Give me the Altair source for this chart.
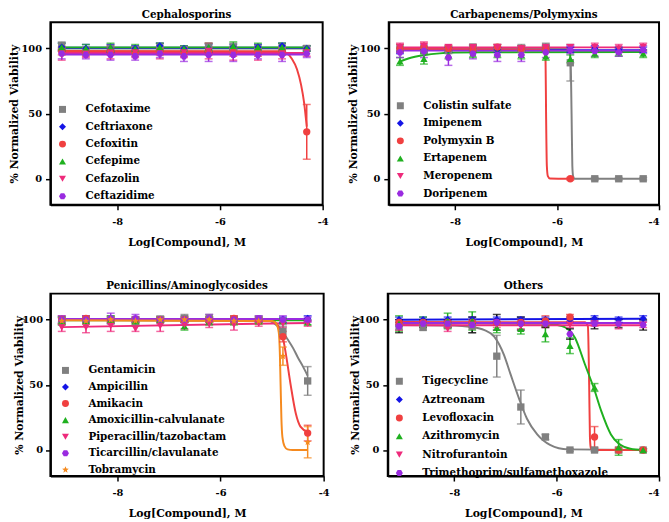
import altair as alt
import pandas as pd

# ---------------- data ----------------
XS = [-9.08, -8.61, -8.13, -7.65, -7.17, -6.70, -6.22, -5.74, -5.26, -4.79, -4.31]

GRAY, BLUE, RED, GREEN = "#808080", "#1414e6", "#f04040", "#1fb01f"
PINK, PURPLE, ORANGE, BLACK = "#ee2a7b", "#9a2be0", "#f58a1f", "#000000"

HEXAGON = "M-0.5,-0.87L0.5,-0.87L1,0L0.5,0.87L-0.5,0.87L-1,0Z"
STAR = ("M0,-1L0.26,-0.36L0.95,-0.31L0.42,0.14L0.59,0.81L0,0.44"
        "L-0.59,0.81L-0.42,0.14L-0.95,-0.31L-0.26,-0.36Z")

# Panel 1 - Cephalosporins
P1_TITLE = "Cephalosporins"
P1_NAMES = ["Cefotaxime", "Ceftriaxone", "Cefoxitin", "Cefepime", "Cefazolin", "Ceftazidime"]
P1_COLORS = [GRAY, BLUE, RED, GREEN, PINK, PURPLE]
P1_ECOLORS = [GRAY, BLUE, RED, GREEN, PINK, PURPLE]
P1_SHAPES = ["square", "diamond", "circle", "triangle-up", "triangle-down", HEXAGON]
P1_Y = [
    [102, 98, 100, 99, 101, 99, 101, 101, 100, 101, 100],
    [101, 100, 100, 100, 102, 100, 100, 101, 101, 102, 100],
    [98, 97, 98, 97, 98, 97, 98, 97, 97, 98, 36],
    [101, 100, 101, 100, 101, 100, 101, 102, 101, 101, 100],
    [95, 96, 97, 97, 96, 97, 98, 96, 95, 96, 97],
    [96, 95, 95, 94, 96, 94, 95, 95, 95, 95, 96],
]
P1_E = [
    [3, 3, 3, 3, 3, 2, 3, 3, 3, 3, 2],
    [3, 3, 3, 2, 2, 2, 3, 2, 2, 2, 2],
    [3, 3, 3, 3, 3, 3, 3, 3, 3, 3, 21],
    [3, 3, 3, 3, 3, 2, 3, 3, 3, 3, 2],
    [4, 3, 5, 4, 4, 4, 6, 5, 4, 4, 3],
    [4, 3, 4, 3, 3, 4, 5, 5, 3, 5, 3],
]
P1_CX = [
    [-9.08, -4.31],
    [-9.08, -4.31],
    [-9.08, -4.80, -4.70, -4.60, -4.50, -4.42, -4.36, -4.31],
    [-9.08, -4.31],
    [-9.08, -4.31],
    [-9.08, -4.31],
]
P1_CY = [
    [100, 100],
    [100.5, 100.5],
    [98, 97.8, 96.5, 92, 84, 72, 58, 40],
    [100.8, 100.8],
    [96.5, 96.5],
    [95.3, 95.3],
]

# Panel 2 - Carbapenems/Polymyxins
P2_TITLE = "Carbapenems/Polymyxins"
P2_NAMES = ["Colistin sulfate", "Imipenem", "Polymyxin B", "Ertapenem", "Meropenem", "Doripenem"]
P2_COLORS = [GRAY, BLUE, RED, GREEN, PINK, PURPLE]
P2_ECOLORS = [GRAY, BLUE, RED, GREEN, PINK, PURPLE]
P2_SHAPES = ["square", "diamond", "circle", "triangle-up", "triangle-down", HEXAGON]
P2_Y = [
    [100, 99, 99, 101, 100, 100, 101, 89, 0, 0, 0],
    [98, 99, 99, 100, 99, 100, 100, 99, 100, 99, 99],
    [100, 101, 100, 100, 101, 100, 100, 0, None, None, None],
    [90, 92, 95, 96, 96, 95, 94, 92, 96, 97, 96],
    [101, 102, 101, 101, 101, 100, 101, 101, 101, 100, 101],
    [97, 98, 93, 96, 95, 95, 97, 99, 98, 97, 99],
]
P2_E = [
    [3, 3, 3, 2, 3, 3, 3, 14, 1, 1, 1],
    [2, 2, 2, 2, 2, 2, 2, 2, 2, 2, 2],
    [3, 3, 2, 2, 2, 2, 2, 1, 0, 0, 0],
    [3, 4, 3, 3, 3, 3, 3, 3, 3, 3, 3],
    [3, 3, 2, 2, 2, 2, 2, 2, 3, 3, 3],
    [4, 5, 6, 4, 5, 5, 4, 3, 4, 3, 3],
]
P2_CX = [
    [-9.08, -5.77, -5.735, -5.715, -5.70, -5.685, -5.66, -4.31],
    [-9.08, -4.31],
    [-9.08, -6.25, -6.225, -6.215, -6.20, -6.18, -6.14, -5.74],
    [-9.08, -8.9, -8.61, -8.3, -8.0, -7.5, -4.31],
    [-9.08, -4.31],
    [-9.08, -4.31],
]
P2_CY = [
    [100, 99.5, 92, 50, 10, 2, 0, 0],
    [98.7, 98.7],
    [99.5, 99, 90, 50, 10, 2, 0.2, 0],
    [90, 92.5, 94.8, 96.2, 96.8, 97.1, 97.2],
    [100.8, 100.8],
    [98.3, 98.3],
]

# Panel 3 - Penicillins/Aminoglycosides
P3_TITLE = "Penicillins/Aminoglycosides"
P3_NAMES = ["Gentamicin", "Ampicillin", "Amikacin", "Amoxicillin-calvulanate",
            "Piperacillin/tazobactam", "Ticarcillin/clavulanate", "Tobramycin"]
P3_COLORS = [GRAY, BLUE, RED, GREEN, PINK, PURPLE, ORANGE]
P3_ECOLORS = [GRAY, BLUE, RED, GREEN, PINK, PURPLE, ORANGE]
P3_SHAPES = ["square", "diamond", "circle", "triangle-up", "triangle-down", HEXAGON, STAR]
P3_Y = [
    [99, 100, 100, 99, 100, 101, 101, 100, 100, 91, 53],
    [100, 100, 100, 100, 100, 100, 100, 100, 100, 100, 101],
    [100, 101, 100, 100, 100, 100, 100, 101, 100, 87, 13],
    [99, 99, 100, 99, 100, 95, 99, 99, 99, 99, 98],
    [94, 94, 95, 93, 95, 96, 97, 96, 97, 97, 97],
    [100, 100, 101, 101, 100, 100, 101, 100, 101, 100, 100],
    [99, 99, 100, 99, 100, 100, 100, 99, 99, 72, 6],
]
P3_E = [
    [3, 3, 3, 3, 3, 3, 3, 3, 3, 4, 11],
    [2, 2, 2, 2, 2, 2, 2, 2, 2, 2, 2],
    [3, 2, 2, 2, 2, 2, 2, 2, 2, 4, 6],
    [3, 2, 3, 2, 2, 3, 3, 3, 2, 2, 2],
    [3, 4, 4, 2, 4, 3, 3, 4, 2, 3, 2],
    [3, 3, 4, 3, 2, 3, 3, 2, 2, 3, 2],
    [2, 2, 2, 2, 2, 2, 2, 2, 2, 7, 12],
]
P3_CX = [
    [-9.08, -5.1, -4.95, -4.80, -4.70, -4.59, -4.50, -4.40, -4.31],
    [-9.08, -4.31],
    [-9.08, -5.0, -4.9, -4.80, -4.73, -4.64, -4.54, -4.45, -4.31],
    [-9.08, -4.31],
    [-9.08, -4.31],
    [-9.08, -4.31],
    [-9.08, -5.0, -4.92, -4.87, -4.85, -4.835, -4.82, -4.80, -4.76, -4.70, -4.60, -4.31],
]
P3_CY = [
    [100, 99.5, 97, 91, 85, 78, 71, 64, 57],
    [100.3, 100.3],
    [100, 99, 96.5, 88, 73, 50, 28, 18, 14],
    [99.5, 99.5],
    [94.3, 97.5],
    [100.5, 100.5],
    [99.5, 99, 97, 90, 75, 50, 25, 10, 3, 0.5, 0, 0],
]

# Panel 4 - Others
P4_TITLE = "Others"
P4_NAMES = ["Tigecycline", "Aztreonam", "Levofloxacin", "Azithromycin",
            "Nitrofurantoin", "Trimethoprim/sulfamethoxazole"]
P4_COLORS = [GRAY, BLUE, RED, GREEN, PINK, PURPLE]
P4_ECOLORS = [GRAY, BLUE, RED, GREEN, PINK, BLACK]
P4_SHAPES = ["square", "diamond", "circle", "triangle-up", "triangle-down", HEXAGON]
P4_Y = [
    [95, 94, 96, 95, 72, 33, 10, 0, 0, 0, 0],
    [100, 100, 100, 100, 100, 100, 100, 100, 101, 100, 101],
    [98, 98, 98, 98, 98, 98, 99, 102, 10, 0, 0],
    [97, 98, 99, 99, 94, 93, 89, 80, 48, 2, 0],
    [94, 97, 93, 96, 96, 95, 96, 96, 97, 95, 96],
    [95, 97, 97, 96, 98, 97, 97, 89, 97, 97, 96],
]
P4_E = [
    [3, 2, 2, 5, 16, 13, 2, 1, 1, 1, 1],
    [2, 2, 2, 2, 2, 2, 2, 2, 2, 2, 2],
    [2, 2, 2, 2, 2, 2, 4, 2, 8, 2, 1],
    [6, 4, 6, 7, 4, 4, 6, 6, 3, 6, 1],
    [2, 2, 2, 2, 2, 2, 2, 2, 2, 2, 2],
    [5, 3, 3, 6, 6, 5, 3, 4, 4, 3, 4],
]
P4_CX = [
    [-9.08, -8.0, -7.70, -7.41, -7.22, -7.03, -6.90, -6.74, -6.58, -6.38, -6.13, -5.78, -4.31],
    [-9.08, -4.31],
    [-9.08, -5.45, -5.39, -5.365, -5.35, -5.335, -5.31, -4.31],
    [-9.08, -6.3, -6.0, -5.83, -5.64, -5.45, -5.27, -5.13, -4.94, -4.79, -4.56, -4.31],
    [-9.08, -4.31],
    [-9.08, -4.31],
]
P4_CY = [
    [96, 95.5, 94.5, 92, 87, 73, 58, 40, 24, 12, 4, 0.5, 0],
    [100, 100.8],
    [98.2, 98, 95, 50, 10, 2, 0, 0],
    [97.5, 97, 96, 94, 86, 66, 47, 30, 12, 5, 1, 0],
    [95.7, 95.7],
    [97.5, 97.5],
]

X_TICKS = [-8, -6, -4]
Y_TICKS = [0, 50, 100]

FONT = "DejaVu Serif"
H = 185


def panel(title, names, colors, ecolors, shapes, ys, es, cxs, cys,
          lx, ly, rowpad, width, ytpad=1, ylpad=4, flush=False):
    pts, crv = [], []
    for i, n in enumerate(names):
        for j, x in enumerate(XS):
            if ys[i][j] is None:
                continue
            pts.append({"series": n, "order": i, "x": x, "y": ys[i][j],
                        "lo": ys[i][j] - es[i][j], "hi": ys[i][j] + es[i][j],
                        "ecolor": ecolors[i]})
        for x, y in zip(cxs[i], cys[i]):
            crv.append({"series": n, "order": i, "x": x, "y": y, "color": colors[i]})
    dp, dc = pd.DataFrame(pts), pd.DataFrame(crv)

    xsc = alt.Scale(domain=[-9.3, -4], nice=False, zero=False, padding=0)
    ysc = alt.Scale(domain=[-20, 120], nice=False, zero=False, padding=0)
    xax = alt.Axis(values=X_TICKS, title="Log[Compound], M", labelExpr="'' + datum.value",
                   labelFlush=flush, labelPadding=6.5, titlePadding=10.5)
    yax = alt.Axis(values=Y_TICKS, title="% Normalized Viability",
                   labelPadding=ylpad, titlePadding=ytpad)

    lines = alt.Chart(dc).mark_line(strokeWidth=2, interpolate="monotone", clip=True).encode(
        x=alt.X("x:Q", scale=xsc, axis=xax), y=alt.Y("y:Q", scale=ysc, axis=yax),
        detail="series:N",
        color=alt.Color("color:N", scale=None),
    )
    rules = alt.Chart(dp).mark_rule(strokeWidth=1.5).encode(
        x=alt.X("x:Q", scale=xsc), y=alt.Y("lo:Q", scale=ysc), y2="hi:Q",
        color=alt.Color("ecolor:N", scale=None),
    )
    caps = alt.Chart(dp).transform_fold(["lo", "hi"], as_=["k", "cap"]).mark_tick(
        orient="horizontal", size=8, thickness=1.5).encode(
        x=alt.X("x:Q", scale=xsc), y=alt.Y("cap:Q", scale=ysc),
        color=alt.Color("ecolor:N", scale=None),
    )
    legend = alt.Legend(orient="none", legendX=lx, legendY=ly, title=None,
                        rowPadding=rowpad)
    points = alt.Chart(dp).mark_point(filled=True, size=55, opacity=1, fillOpacity=1,
                                      strokeWidth=0).encode(
        x=alt.X("x:Q", scale=xsc), y=alt.Y("y:Q", scale=ysc),
        color=alt.Color("series:N", scale=alt.Scale(domain=names, range=colors), legend=legend),
        shape=alt.Shape("series:N", scale=alt.Scale(domain=names, range=shapes), legend=legend),
        order=alt.Order("order:Q"),
    )
    return alt.layer(lines, rules, caps, points).properties(
        width=width, height=H,
        title=alt.TitleParams(title, anchor="middle", font=FONT, fontSize=10.5,
                              fontWeight="bold", offset=2),
    )


p1 = panel(P1_TITLE, P1_NAMES, P1_COLORS, P1_ECOLORS, P1_SHAPES, P1_Y, P1_E, P1_CX, P1_CY,
           7, 83, 6.6, 276)
p2 = panel(P2_TITLE, P2_NAMES, P2_COLORS, P2_ECOLORS, P2_SHAPES, P2_Y, P2_E, P2_CX, P2_CY,
           6.5, 79.3, 6.8, 274, flush=True)
p3 = panel(P3_TITLE, P3_NAMES, P3_COLORS, P3_ECOLORS, P3_SHAPES, P3_Y, P3_E, P3_CX, P3_CY,
           10, 72.6, 5.8, 277, ytpad=-3, ylpad=3)
p4 = panel(P4_TITLE, P4_NAMES, P4_COLORS, P4_ECOLORS, P4_SHAPES, P4_Y, P4_E, P4_CX, P4_CY,
           6.5, 83.6, 7.6, 275, ytpad=-2, flush=True)

row1 = alt.hconcat(p1, p2, spacing=17).resolve_scale(color="independent", shape="independent")
row2 = alt.hconcat(p3, p4, spacing=18).resolve_scale(color="independent", shape="independent")

chart = alt.vconcat(row1, row2, spacing=32).resolve_scale(
    color="independent", shape="independent"
).properties(
    padding={"left": 0, "top": -3, "right": 0, "bottom": 0}
).configure_view(
    stroke="black", strokeWidth=2
).configure_axis(
    grid=False, domainColor="black", domainWidth=2, tickColor="black", tickWidth=1.5,
    tickSize=5, labelFont=FONT, labelFontSize=10, labelFontWeight="bold", labelColor="black",
    titleFont=FONT, titleFontSize=11, titleFontWeight="bold", titleColor="black",
).configure_legend(
    labelFont=FONT, labelFontSize=10.5, labelFontWeight="bold", labelColor="black",
    symbolSize=50, labelOffset=18, padding=0, symbolStrokeWidth=0, labelLimit=400,
    symbolOpacity=1,
)

chart.save("out.html", embed_options={"renderer": "svg", "actions": False})
